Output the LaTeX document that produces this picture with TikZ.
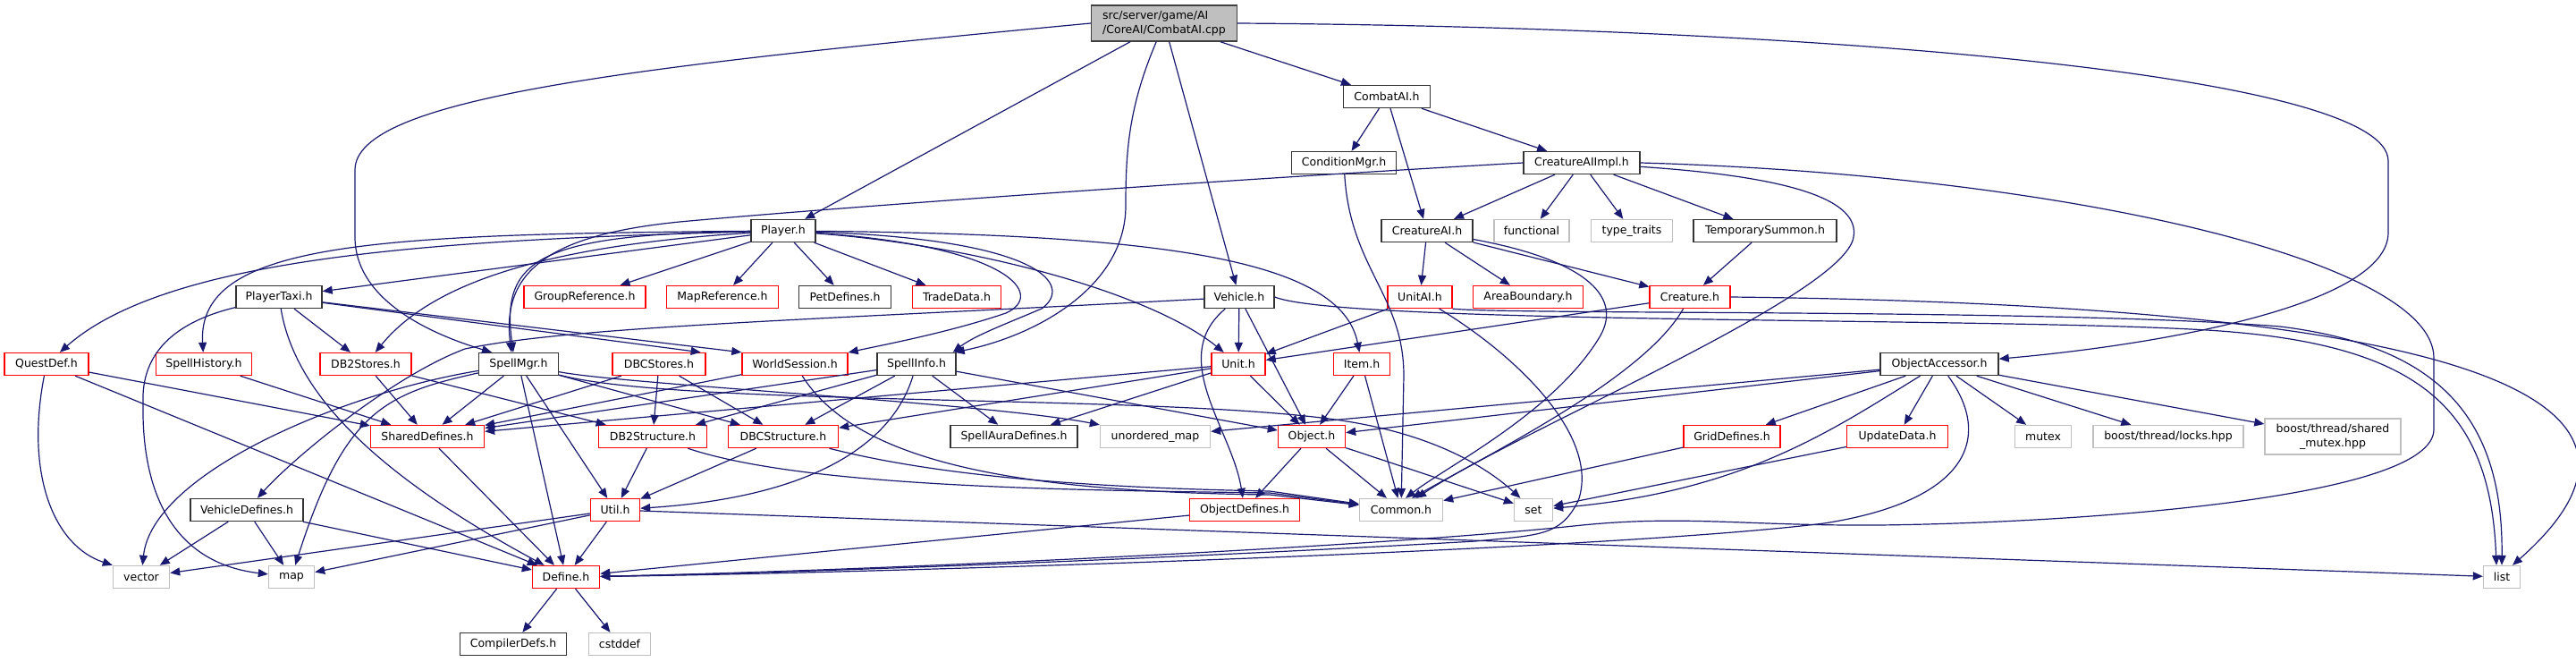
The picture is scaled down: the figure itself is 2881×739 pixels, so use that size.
\documentclass[tikz,border=0pt]{standalone}
\usepackage{fontspec}
\setmainfont{DejaVu Sans}
\usetikzlibrary{arrows.meta}
\definecolor{edgeblue}{HTML}{191970}
\newcommand{\docline}{black!80}
\newcommand{\redline}{red}
\newcommand{\sysline}{black!25}
\newcommand{\rootfill}{black!25}
\tikzset{
  hbox/.style={draw, fill=white, line width=1.4pt, minimum height=25pt, inner sep=0pt,
    font=\fontsize{12.5}{16}\selectfont},
  dochdr/.style={hbox, draw=\docline},
  redhdr/.style={hbox, draw=\redline},
  syshdr/.style={hbox, draw=\sysline},
  incl/.style={draw=edgeblue, line width=1.2pt, -{Triangle[length=11pt,width=9pt]}}
}

\begin{document}
\begin{tikzpicture}[x=1pt,y=-1pt]
        \useasboundingbox (0,0) rectangle (2881,739);
        \fill[white] (0,0) rectangle (2881,739);
        % rank 0 - 3
        \node[hbox, draw=black!75, fill=\rootfill, minimum width=163pt, minimum height=40pt, align=left] (CombatAIcpp) at (1302,26) {src/server/game/AI\\/CoreAI/CombatAI.cpp};
        \node[dochdr, minimum width=97pt] (CombatAI) at (1551,108) {CombatAI.h};
        \node[dochdr, minimum width=117pt] (ConditionMgr) at (1503,182) {ConditionMgr.h};
        \node[dochdr, minimum width=130pt] (CreatureAIImpl) at (1769,182) {CreatureAIImpl.h};
        \node[dochdr, minimum width=72pt] (Player) at (876,258) {Player.h};
        \node[dochdr, minimum width=102pt] (CreatureAI) at (1596,258) {CreatureAI.h};
        \node[syshdr, minimum width=84pt] (functional) at (1713,258) {functional};
        \node[syshdr, minimum width=91pt] (typetraits) at (1825,258) {type\_traits};
        \node[dochdr, minimum width=160pt] (TemporarySummon) at (1974,258) {TemporarySummon.h};
        % rank 4
        \node[dochdr, minimum width=96pt] (PlayerTaxi) at (312,332) {PlayerTaxi.h};
        \node[redhdr, minimum width=136pt] (GroupReference) at (654,332) {GroupReference.h};
        \node[redhdr, minimum width=125pt] (MapReference) at (808,332) {MapReference.h};
        \node[dochdr, minimum width=103pt] (PetDefines) at (945,332) {PetDefines.h};
        \node[redhdr, minimum width=99pt] (TradeData) at (1070,332) {TradeData.h};
        \node[dochdr, minimum width=78pt] (Vehicle) at (1386,332) {Vehicle.h};
        \node[redhdr, minimum width=72pt] (UnitAI) at (1588,332) {UnitAI.h};
        \node[redhdr, minimum width=123pt] (AreaBoundary) at (1709,332) {AreaBoundary.h};
        \node[redhdr, minimum width=90pt] (Creature) at (1890,332) {Creature.h};
        % rank 5
        \node[redhdr, minimum width=94pt] (QuestDef) at (52,407) {QuestDef.h};
        \node[redhdr, minimum width=107pt] (SpellHistory) at (228,407) {SpellHistory.h};
        \node[redhdr, minimum width=102pt] (DB2Stores) at (409,407) {DB2Stores.h};
        \node[dochdr, minimum width=89pt] (SpellMgr) at (580,407) {SpellMgr.h};
        \node[redhdr, minimum width=104pt] (DBCStores) at (737,407) {DBCStores.h};
        \node[redhdr, minimum width=118pt] (WorldSession) at (889,407) {WorldSession.h};
        \node[dochdr, minimum width=88pt] (SpellInfo) at (1025,407) {SpellInfo.h};
        \node[redhdr, minimum width=60pt] (Unit) at (1385,407) {Unit.h};
        \node[redhdr, minimum width=63pt] (Item) at (1523,407) {Item.h};
        \node[dochdr, minimum width=132pt] (ObjectAccessor) at (2169,407) {ObjectAccessor.h};
        % rank 6
        \node[redhdr, minimum width=127pt] (SharedDefines) at (478,488) {SharedDefines.h};
        \node[redhdr, minimum width=121pt] (DB2Structure) at (730,488) {DB2Structure.h};
        \node[redhdr, minimum width=123pt] (DBCStructure) at (876,488) {DBCStructure.h};
        \node[dochdr, minimum width=142pt] (SpellAuraDefines) at (1134,488) {SpellAuraDefines.h};
        \node[syshdr, minimum width=123pt] (unorderedmap) at (1292,488) {unordered\_map};
        \node[redhdr, minimum width=75pt] (Object) at (1467,488) {Object.h};
        \node[redhdr, minimum width=108pt] (GridDefines) at (1937,488) {GridDefines.h};
        \node[redhdr, minimum width=113pt] (UpdateData) at (2122,488) {UpdateData.h};
        \node[syshdr, minimum width=63pt] (mutex) at (2285,488) {mutex};
        \node[syshdr, minimum width=168pt] (locks) at (2425,488) {boost/thread/locks.hpp};
        \node[syshdr, minimum width=152pt, minimum height=40pt, align=center] (sharedmutex) at (2609,488) {boost/thread/shared\\\_mutex.hpp};
        % rank 7 - 9
        \node[dochdr, minimum width=126pt] (VehicleDefines) at (276,570) {VehicleDefines.h};
        \node[redhdr, minimum width=55pt] (Util) at (688,570) {Util.h};
        \node[redhdr, minimum width=123pt] (ObjectDefines) at (1392,570) {ObjectDefines.h};
        \node[syshdr, minimum width=93pt] (Common) at (1567,570) {Common.h};
        \node[syshdr, minimum width=43pt] (set) at (1715,570) {set};
        \node[syshdr, minimum width=63pt] (vector) at (158,645) {vector};
        \node[syshdr, minimum width=51pt] (map) at (326,645) {map};
        \node[redhdr, minimum width=75pt] (Define) at (633,645) {Define.h};
        \node[syshdr, minimum width=41pt] (list) at (2798,645) {list};
        \node[dochdr, minimum width=119pt] (CompilerDefs) at (574,720) {CompilerDefs.h};
        \node[syshdr, minimum width=69pt] (cstddef) at (693,720) {cstddef};

        % CombatAI.cpp
        \draw[incl] (CombatAIcpp) -- (CombatAI);
        \draw[incl] (CombatAIcpp) -- (Player);
        \draw[incl] (CombatAIcpp) -- (Vehicle);
        \draw[incl] (CombatAIcpp) .. controls (1262,120) and (1259,170) .. (1259,230) .. controls (1259,320) and (1160,375) .. ([xshift=-2pt]SpellInfo.north east);
        \draw[incl] (CombatAIcpp.west) .. controls (700,75) and (397,110) .. (397,190) -- (397,265) .. controls (397,330) and (470,370) .. ([xshift=-30pt]SpellMgr.north);
        \draw[incl] (CombatAIcpp.east) .. controls (2000,30) and (2671,80) .. (2671,180) -- (2671,260) .. controls (2671,340) and (2420,385) .. (ObjectAccessor);
        % CombatAI.h, ConditionMgr.h, CreatureAIImpl.h
        \draw[incl] (CombatAI) -- (ConditionMgr);
        \draw[incl] (CombatAI) -- (CreatureAI);
        \draw[incl] (CombatAI) -- (CreatureAIImpl);
        \draw[incl] (ConditionMgr) .. controls (1510,300) and (1570,330) .. (1570,420) -- (Common);
        \draw[incl] (CreatureAIImpl) -- (CreatureAI);
        \draw[incl] (CreatureAIImpl) -- (functional);
        \draw[incl] (CreatureAIImpl) -- (typetraits);
        \draw[incl] (CreatureAIImpl) -- (TemporarySummon);
        \draw[incl] (CreatureAIImpl.west) .. controls (1300,205) and (900,235) .. (760,248) .. controls (620,262) and (560,300) .. ([xshift=-8pt]SpellMgr.north);
        \draw[incl] (CreatureAIImpl) .. controls (2010,198) and (2080,225) .. (2073,265) .. controls (2063,330) and (1700,480) .. ([xshift=17pt]Common.north);
        \draw[incl] (CreatureAIImpl.east) .. controls (2300,195) and (2722,290) .. (2722,400) -- (2722,480) .. controls (2722,560) and (2300,585) .. (2100,587) .. controls (1950,588) and (1880,575) .. (1760,588) .. controls (1500,615) and (900,640) .. (Define);
        % CreatureAI.h, UnitAI.h, Creature.h
        \draw[incl] (CreatureAI) -- (UnitAI);
        \draw[incl] (CreatureAI) -- (AreaBoundary);
        \draw[incl] (CreatureAI) -- (Creature);
        \draw[incl] (CreatureAI) .. controls (1770,290) and (1815,330) .. (1790,375) .. controls (1740,460) and (1620,520) .. ([xshift=5pt]Common.north);
        \draw[incl] (TemporarySummon) -- (Creature);
        \draw[incl] (UnitAI) -- (Unit);
        \draw[incl] (UnitAI) .. controls (1700,400) and (1790,490) .. (1765,560) .. controls (1745,600) and (1720,598) .. (1650,605) .. controls (1300,625) and (900,640) .. (Define);
        \draw[incl] (UnitAI.south east) .. controls (1700,352) and (2300,345) .. (2550,365) .. controls (2720,386) and (2800,460) .. (list.north);
        \draw[incl] (Creature) -- (Unit);
        \draw[incl] (Creature) .. controls (1840,420) and (1680,500) .. ([xshift=12pt]Common.north);
        \draw[incl] (Creature.east) .. controls (2650,340) and (3050,420) .. ([xshift=12pt]list.north);
        % Vehicle.h
        \draw[incl] (Vehicle) -- (Unit);
        \draw[incl] (Vehicle) -- (Object);
        \draw[incl] (Vehicle) .. controls (1305,400) and (1378,480) .. (ObjectDefines);
        \draw[incl] (Vehicle.east) .. controls (1500,362) and (2200,355) .. (2450,368) .. controls (2700,380) and (2785,450) .. ([xshift=-6pt]list.north);
        \draw[incl] (Vehicle) .. controls (900,358) and (640,365) .. (520,390) .. controls (440,420) and (330,510) .. (VehicleDefines);
        % Player.h
        \draw[incl] (Player) -- (PlayerTaxi);
        \draw[incl] (Player) -- (GroupReference);
        \draw[incl] (Player) -- (MapReference);
        \draw[incl] (Player) -- (PetDefines);
        \draw[incl] (Player) -- (TradeData);
        \draw[incl] (Player) .. controls (500,268) and (190,285) .. (QuestDef);
        \draw[incl] (Player) .. controls (420,262) and (220,270) .. (SpellHistory);
        \draw[incl] (Player) .. controls (600,275) and (480,320) .. (DB2Stores);
        \draw[incl] (Player) .. controls (600,262) and (560,290) .. ([xshift=-6pt]SpellMgr.north);
        \draw[incl] (Player) .. controls (1130,275) and (1170,330) .. (1125,350) .. controls (1060,372) and (990,385) .. (WorldSession);
        \draw[incl] (Player) .. controls (1170,268) and (1200,320) .. (1165,345) .. controls (1130,360) and (1090,375) .. ([xshift=-4pt]SpellInfo.north east);
        \draw[incl] (Player) .. controls (1100,275) and (1290,330) .. (Unit);
        \draw[incl] (Player) .. controls (1300,262) and (1500,290) .. (Item);
        % PlayerTaxi.h, QuestDef.h, SpellHistory.h, DB2Stores.h
        \draw[incl] (PlayerTaxi) -- (DB2Stores);
        \draw[incl] (PlayerTaxi) -- ([xshift=-6pt]DBCStores.north east);
        \draw[incl] (PlayerTaxi) -- (WorldSession.north west);
        \draw[incl] (PlayerTaxi) .. controls (330,440) and (420,530) .. (Define);
        \draw[incl] (PlayerTaxi) .. controls (195,360) and (158,395) .. (160,450) .. controls (158,560) and (200,630) .. (map);
        \draw[incl] (QuestDef) .. controls (28,530) and (60,610) .. (vector.north west);
        \draw[incl] (QuestDef) -- (SharedDefines);
        \draw[incl] (QuestDef) -- (Define);
        \draw[incl] (SpellHistory) -- (SharedDefines);
        \draw[incl] (DB2Stores) -- (SharedDefines);
        \draw[incl] (DB2Stores) -- (DB2Structure);
        % SpellMgr.h
        \draw[incl] (SpellMgr) -- (SharedDefines);
        \draw[incl] (SpellMgr) -- (Define);
        \draw[incl] (SpellMgr) -- (Util);
        \draw[incl] (SpellMgr) -- (DBCStructure);
        \draw[incl] (SpellMgr) .. controls (380,440) and (170,530) .. (vector);
        \draw[incl] (SpellMgr) .. controls (430,440) and (385,460) .. (map);
        \draw[incl] (SpellMgr) .. controls (700,430) and (1100,450) .. (unorderedmap.north west);
        \draw[incl] (SpellMgr) .. controls (760,455) and (1300,440) .. (1500,470) .. controls (1600,485) and (1660,520) .. (set);
        % DBCStores.h, WorldSession.h, SpellInfo.h
        \draw[incl] (DBCStores) -- (SharedDefines);
        \draw[incl] (DBCStores) -- (DB2Structure);
        \draw[incl] (DBCStores) -- (DBCStructure);
        \draw[incl] (WorldSession) -- (SharedDefines);
        \draw[incl] (WorldSession) .. controls (960,520) and (1150,550) .. (1420,553) -- (Common);
        \draw[incl] (SpellInfo) -- (SharedDefines);
        \draw[incl] (SpellInfo) -- (DB2Structure);
        \draw[incl] (SpellInfo) -- (DBCStructure);
        \draw[incl] (SpellInfo) -- (SpellAuraDefines);
        \draw[incl] (SpellInfo) -- (Object);
        \draw[incl] (SpellInfo) .. controls (1000,490) and (920,555) .. (Util);
        % Unit.h, Item.h
        \draw[incl] (Unit) -- (Object);
        \draw[incl] (Unit) -- (SharedDefines);
        \draw[incl] (Unit) -- (DBCStructure);
        \draw[incl] (Unit) -- (SpellAuraDefines);
        \draw[incl] (Item) -- (Object);
        \draw[incl] (Item) -- (Common);
        % ObjectAccessor.h
        \draw[incl] (ObjectAccessor) -- (Object);
        \draw[incl] (ObjectAccessor) -- (unorderedmap);
        \draw[incl] (ObjectAccessor) -- (GridDefines);
        \draw[incl] (ObjectAccessor) -- (UpdateData);
        \draw[incl] (ObjectAccessor) -- (mutex);
        \draw[incl] (ObjectAccessor) -- (locks);
        \draw[incl] (ObjectAccessor) -- (sharedmutex);
        \draw[incl] (ObjectAccessor) .. controls (2050,480) and (1950,550) .. (set);
        \draw[incl] (ObjectAccessor) .. controls (2230,490) and (2200,560) .. (2040,585) .. controls (1800,615) and (1000,640) .. (Define);
        \draw[incl] (GridDefines) -- (Common);
        \draw[incl] (UpdateData) -- (set);
        % lower ranks
        \draw[incl] (Object) -- (ObjectDefines);
        \draw[incl] (Object) -- (Common);
        \draw[incl] (Object) -- (set);
        \draw[incl] (ObjectDefines) -- (Define);
        \draw[incl] (DB2Structure) -- (Util);
        \draw[incl] (DB2Structure) .. controls (900,545) and (1200,548) .. (1420,551) -- (Common);
        \draw[incl] (DBCStructure) -- (Util);
        \draw[incl] (DBCStructure) .. controls (1040,530) and (1200,545) .. (1420,549) -- (Common);
        \draw[incl] (SharedDefines) -- (Define);
        \draw[incl] (VehicleDefines) -- (vector);
        \draw[incl] (VehicleDefines) -- (map);
        \draw[incl] (VehicleDefines) -- (Define);
        \draw[incl] (Util) -- (Define);
        \draw[incl] (Util) -- (vector);
        \draw[incl] (Util) -- (map);
        \draw[incl] (Util) -- (list);
        \draw[incl] (Define) -- (CompilerDefs);
        \draw[incl] (Define) -- (cstddef);
\end{tikzpicture}
\end{document}
